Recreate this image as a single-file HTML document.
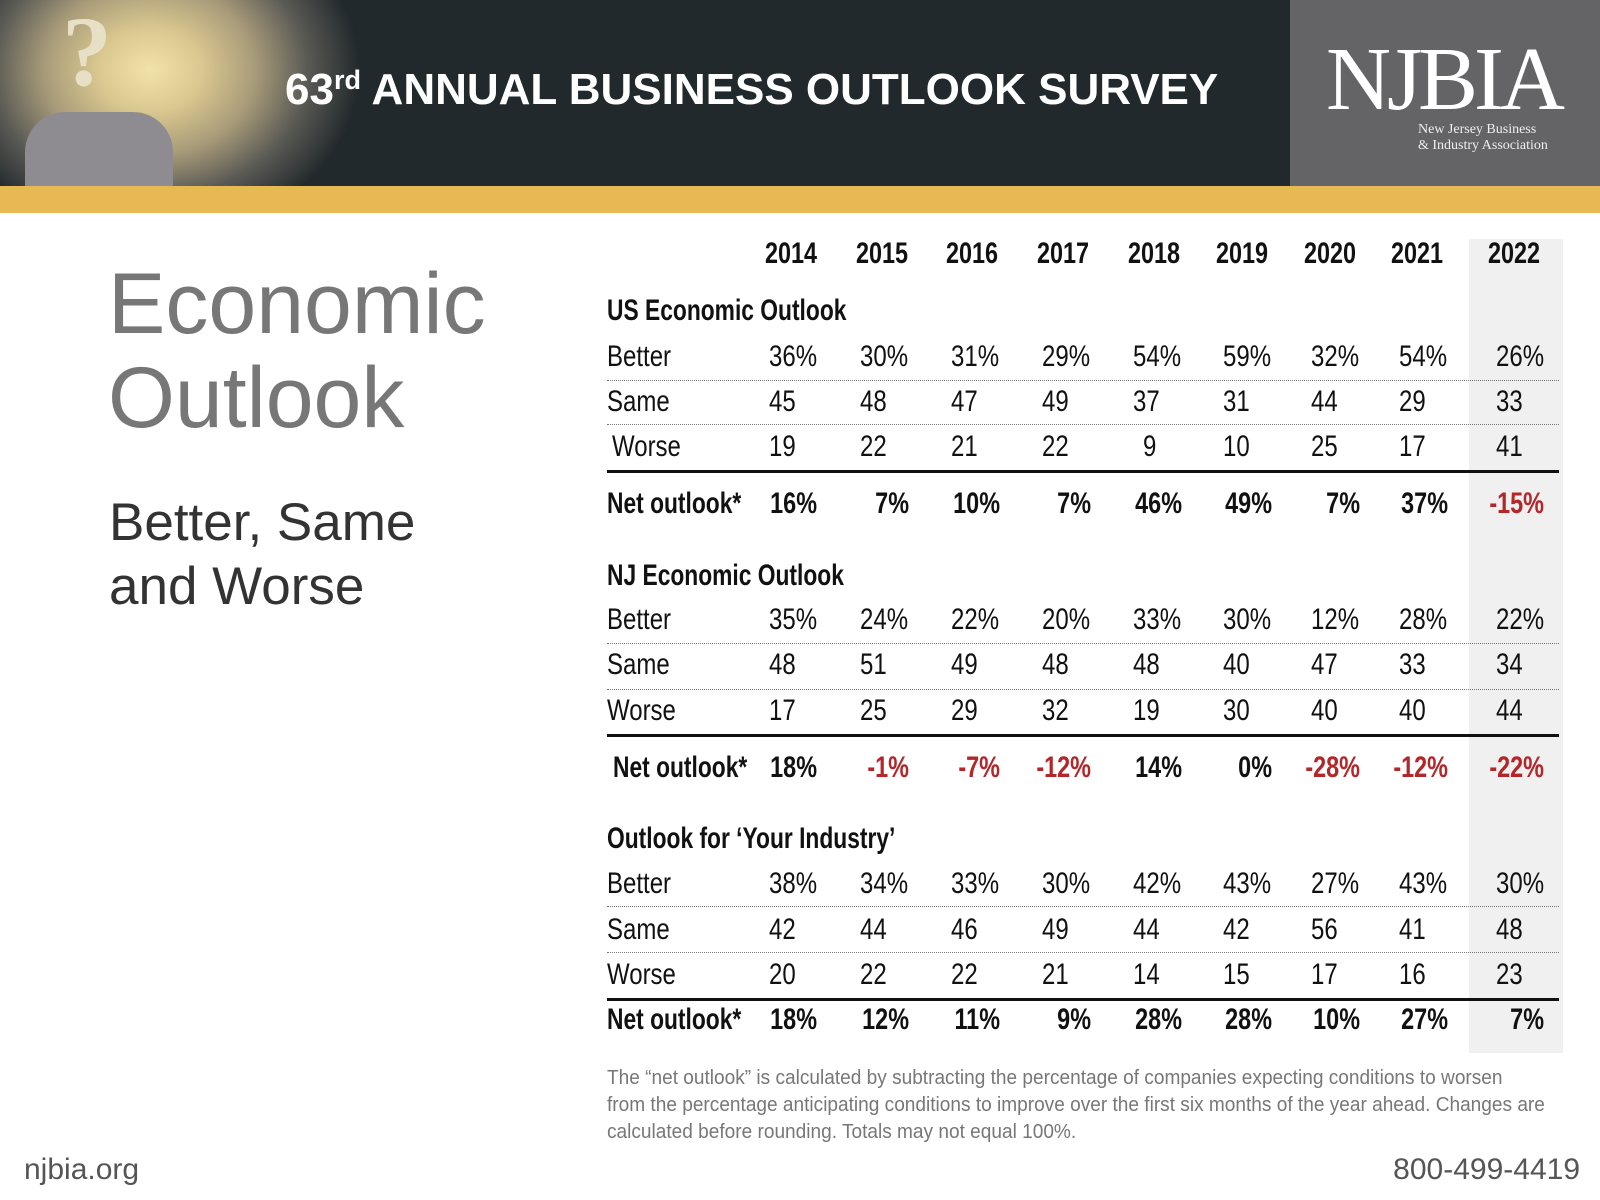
<!DOCTYPE html>
<html><head><meta charset="utf-8"><style>
*{margin:0;padding:0;box-sizing:border-box}
body{width:1600px;height:1200px;position:relative;background:#fff;overflow:hidden;font-family:"Liberation Sans",sans-serif;color:#111}
.hdr{position:absolute;left:0;top:0;width:1600px;height:186px;background:#22292c}
.img{position:absolute;left:0;top:0;width:420px;height:186px;background:radial-gradient(ellipse 210px 170px at 150px 70px,#f1e3a8 0%,#d9c78f 25%,#a89b79 50%,#5a5a55 75%,#22292c 100%)}
.torso{position:absolute;left:25px;top:112px;width:148px;height:74px;background:#8f8c91;border-radius:40px 40px 0 0}
.q{position:absolute;left:62px;top:-6px;font:bold 100px "Liberation Serif",serif;color:#e8e0c6}
.logo{position:absolute;left:1290px;top:0;width:310px;height:186px;background:#646466}
.yb{position:absolute;left:0;top:186px;width:1600px;height:27px;background:#e6b952}
.t{position:absolute;white-space:nowrap}
.ttl{left:285px;top:65px;font:bold 44px "Liberation Sans",sans-serif;color:#fff}
.ttl sup{font-size:27px;vertical-align:15px}
.gcol{position:absolute;left:1469px;top:239px;width:94px;height:814px;background:#f0f0f0}
.r{position:absolute;height:36px;line-height:36px;font-size:30px;white-space:nowrap;transform:scaleX(.8);transform-origin:left center}
.b{font-weight:bold;transform:scaleX(.76)}
.red{color:#b3262a}
.y{width:100px;text-align:center;font-weight:bold;transform:scaleX(.78);transform-origin:center}
.n{width:100px;text-align:right;font-weight:bold;transform:scaleX(.78);transform-origin:right center}
.dot{position:absolute;left:607px;width:952px;border-top:1px dotted #777}
.sol{position:absolute;left:607px;width:952px;border-top:3px solid #111}
</style></head><body>
<div class="hdr"></div>
<div class="img"><div class="q">?</div><div class="torso"></div></div>
<div class="logo">
<div class="t" style="left:36px;top:28px;font:90px 'Liberation Serif',serif;color:#fff;letter-spacing:-4px">NJBIA</div>
<div class="t" style="left:128px;top:122px;font:14px 'Liberation Serif',serif;color:#eee;line-height:16px">New Jersey Business<br>&amp; Industry Association</div>
</div>
<div class="yb"></div>
<div class="t ttl">63<sup>rd</sup> ANNUAL BUSINESS OUTLOOK SURVEY</div>

<div class="t" style="left:108px;top:257px;font:86px 'Liberation Sans',sans-serif;color:#777;line-height:94px">Economic<br>Outlook</div>
<div class="t" style="left:109px;top:491px;font:53px 'Liberation Sans',sans-serif;color:#333;line-height:64px">Better, Same<br>and Worse</div>

<div class="gcol"></div>

<div class="r y" style="top:236px;left:741px">2014</div>
<div class="r y" style="top:236px;left:832px">2015</div>
<div class="r y" style="top:236px;left:922px">2016</div>
<div class="r y" style="top:236px;left:1013px">2017</div>
<div class="r y" style="top:236px;left:1104px">2018</div>
<div class="r y" style="top:236px;left:1192px">2019</div>
<div class="r y" style="top:236px;left:1280px">2020</div>
<div class="r y" style="top:236px;left:1367px">2021</div>
<div class="r y" style="top:236px;left:1464px">2022</div>

<div class="r b" style="top:293px;left:607px">US Economic Outlook</div>
<div class="r" style="top:339px;left:607px">Better</div>
<div class="r" style="top:339px;left:769px">36%</div><div class="r" style="top:339px;left:860px">30%</div><div class="r" style="top:339px;left:951px">31%</div><div class="r" style="top:339px;left:1042px">29%</div><div class="r" style="top:339px;left:1133px">54%</div><div class="r" style="top:339px;left:1223px">59%</div><div class="r" style="top:339px;left:1311px">32%</div><div class="r" style="top:339px;left:1399px">54%</div><div class="r" style="top:339px;left:1496px">26%</div>
<div class="dot" style="top:380px"></div>
<div class="r" style="top:384px;left:607px">Same</div>
<div class="r" style="top:384px;left:769px">45</div><div class="r" style="top:384px;left:860px">48</div><div class="r" style="top:384px;left:951px">47</div><div class="r" style="top:384px;left:1042px">49</div><div class="r" style="top:384px;left:1133px">37</div><div class="r" style="top:384px;left:1223px">31</div><div class="r" style="top:384px;left:1311px">44</div><div class="r" style="top:384px;left:1399px">29</div><div class="r" style="top:384px;left:1496px">33</div>
<div class="dot" style="top:424px"></div>
<div class="r" style="top:429px;left:612px">Worse</div>
<div class="r" style="top:429px;left:769px">19</div><div class="r" style="top:429px;left:860px">22</div><div class="r" style="top:429px;left:951px">21</div><div class="r" style="top:429px;left:1042px">22</div><div class="r" style="top:429px;left:1143px">9</div><div class="r" style="top:429px;left:1223px">10</div><div class="r" style="top:429px;left:1311px">25</div><div class="r" style="top:429px;left:1399px">17</div><div class="r" style="top:429px;left:1496px">41</div>
<div class="sol" style="top:470px"></div>
<div class="r b" style="top:486px;left:607px">Net outlook*</div>
<div class="r n" style="top:486px;left:717px">16%</div><div class="r n" style="top:486px;left:809px">7%</div><div class="r n" style="top:486px;left:900px">10%</div><div class="r n" style="top:486px;left:991px">7%</div><div class="r n" style="top:486px;left:1082px">46%</div><div class="r n" style="top:486px;left:1172px">49%</div><div class="r n" style="top:486px;left:1260px">7%</div><div class="r n" style="top:486px;left:1348px">37%</div><div class="r n red" style="top:486px;left:1444px">-15%</div>

<div class="r b" style="top:558px;left:607px">NJ Economic Outlook</div>
<div class="r" style="top:602px;left:607px">Better</div>
<div class="r" style="top:602px;left:769px">35%</div><div class="r" style="top:602px;left:860px">24%</div><div class="r" style="top:602px;left:951px">22%</div><div class="r" style="top:602px;left:1042px">20%</div><div class="r" style="top:602px;left:1133px">33%</div><div class="r" style="top:602px;left:1223px">30%</div><div class="r" style="top:602px;left:1311px">12%</div><div class="r" style="top:602px;left:1399px">28%</div><div class="r" style="top:602px;left:1496px">22%</div>
<div class="dot" style="top:643px"></div>
<div class="r" style="top:647px;left:607px">Same</div>
<div class="r" style="top:647px;left:769px">48</div><div class="r" style="top:647px;left:860px">51</div><div class="r" style="top:647px;left:951px">49</div><div class="r" style="top:647px;left:1042px">48</div><div class="r" style="top:647px;left:1133px">48</div><div class="r" style="top:647px;left:1223px">40</div><div class="r" style="top:647px;left:1311px">47</div><div class="r" style="top:647px;left:1399px">33</div><div class="r" style="top:647px;left:1496px">34</div>
<div class="dot" style="top:689px"></div>
<div class="r" style="top:693px;left:607px">Worse</div>
<div class="r" style="top:693px;left:769px">17</div><div class="r" style="top:693px;left:860px">25</div><div class="r" style="top:693px;left:951px">29</div><div class="r" style="top:693px;left:1042px">32</div><div class="r" style="top:693px;left:1133px">19</div><div class="r" style="top:693px;left:1223px">30</div><div class="r" style="top:693px;left:1311px">40</div><div class="r" style="top:693px;left:1399px">40</div><div class="r" style="top:693px;left:1496px">44</div>
<div class="sol" style="top:734px"></div>
<div class="r b" style="top:750px;left:613px">Net outlook*</div>
<div class="r n" style="top:750px;left:717px">18%</div><div class="r n red" style="top:750px;left:809px">-1%</div><div class="r n red" style="top:750px;left:900px">-7%</div><div class="r n red" style="top:750px;left:991px">-12%</div><div class="r n" style="top:750px;left:1082px">14%</div><div class="r n" style="top:750px;left:1172px">0%</div><div class="r n red" style="top:750px;left:1260px">-28%</div><div class="r n red" style="top:750px;left:1348px">-12%</div><div class="r n red" style="top:750px;left:1444px">-22%</div>

<div class="r b" style="top:821px;left:607px">Outlook for ‘Your Industry’</div>
<div class="r" style="top:866px;left:607px">Better</div>
<div class="r" style="top:866px;left:769px">38%</div><div class="r" style="top:866px;left:860px">34%</div><div class="r" style="top:866px;left:951px">33%</div><div class="r" style="top:866px;left:1042px">30%</div><div class="r" style="top:866px;left:1133px">42%</div><div class="r" style="top:866px;left:1223px">43%</div><div class="r" style="top:866px;left:1311px">27%</div><div class="r" style="top:866px;left:1399px">43%</div><div class="r" style="top:866px;left:1496px">30%</div>
<div class="dot" style="top:906px"></div>
<div class="r" style="top:912px;left:607px">Same</div>
<div class="r" style="top:912px;left:769px">42</div><div class="r" style="top:912px;left:860px">44</div><div class="r" style="top:912px;left:951px">46</div><div class="r" style="top:912px;left:1042px">49</div><div class="r" style="top:912px;left:1133px">44</div><div class="r" style="top:912px;left:1223px">42</div><div class="r" style="top:912px;left:1311px">56</div><div class="r" style="top:912px;left:1399px">41</div><div class="r" style="top:912px;left:1496px">48</div>
<div class="dot" style="top:952px"></div>
<div class="r" style="top:957px;left:607px">Worse</div>
<div class="r" style="top:957px;left:769px">20</div><div class="r" style="top:957px;left:860px">22</div><div class="r" style="top:957px;left:951px">22</div><div class="r" style="top:957px;left:1042px">21</div><div class="r" style="top:957px;left:1133px">14</div><div class="r" style="top:957px;left:1223px">15</div><div class="r" style="top:957px;left:1311px">17</div><div class="r" style="top:957px;left:1399px">16</div><div class="r" style="top:957px;left:1496px">23</div>
<div class="sol" style="top:998px"></div>
<div class="r b" style="top:1002px;left:607px">Net outlook*</div>
<div class="r n" style="top:1002px;left:717px">18%</div><div class="r n" style="top:1002px;left:809px">12%</div><div class="r n" style="top:1002px;left:900px">11%</div><div class="r n" style="top:1002px;left:991px">9%</div><div class="r n" style="top:1002px;left:1082px">28%</div><div class="r n" style="top:1002px;left:1172px">28%</div><div class="r n" style="top:1002px;left:1260px">10%</div><div class="r n" style="top:1002px;left:1348px">27%</div><div class="r n" style="top:1002px;left:1444px">7%</div>

<div class="t" style="left:607px;top:1064px;font-size:20.5px;line-height:27px;color:#777;transform:scaleX(.93);transform-origin:left top">The “net outlook” is calculated by subtracting the percentage of companies expecting conditions to worsen<br>from the percentage anticipating conditions to improve over the first six months of the year ahead. Changes are<br>calculated before rounding. Totals may not equal 100%.</div>

<div class="t" style="left:24px;top:1153px;font:30px 'Liberation Sans',sans-serif;color:#555">njbia.org</div>
<div class="t" style="right:20px;top:1153px;font:30px 'Liberation Sans',sans-serif;color:#555">800-499-4419</div>
</body></html>
